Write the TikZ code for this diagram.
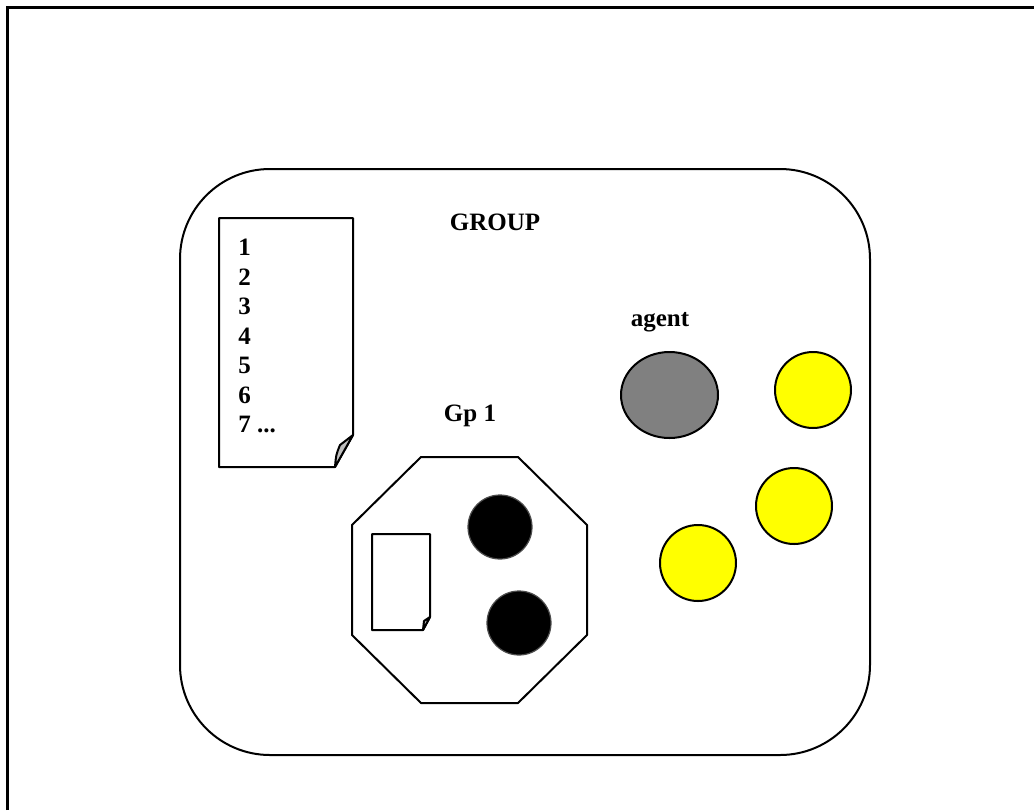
\documentclass[tikz,border=0pt]{standalone}
\usepackage{fontspec}
\setmainfont{Liberation Serif}
\usetikzlibrary{shapes.geometric}
\definecolor{foldgray}{RGB}{192,192,192}
\definecolor{agentgray}{RGB}{128,128,128}
\definecolor{pureyellow}{RGB}{255,255,0}

\begin{document}
\begin{tikzpicture}[x=0.5pt, y=-0.5pt, every node/.style={font=\fontsize{12.5}{14.75}\selectfont\bfseries},
  edge/.style={line width=1pt, line join=round},
  member/.style={circle, draw, line width=1pt, minimum size=38pt, inner sep=0pt, fill=pureyellow},
  blackdot/.style={circle, draw=black!70, line width=0.6pt, minimum size=32pt, inner sep=0pt, fill=black},
  label/.style={inner sep=0pt}]
\useasboundingbox (0,0) rectangle (1034,810);
\draw[line width=1.5pt] (7,810) -- (7,7) -- (1034,7);
% the group
\draw[edge, rounded corners=45pt] (180,169) rectangle (870,755);
\node[label] (group) at (495,222) {GROUP};
% list of the group
\draw[edge] (219,218) -- (353,218) -- (353,435) -- (335,467) -- (219,467) -- cycle;
\draw[edge, fill=foldgray] (353,435) -- (335,467) .. controls (336,455) .. (340,445) -- cycle;
\node[label, anchor=north west, align=left] (list) at (238,239) {1\\2\\3\\4\\5\\6\\7 ...};
% subgroup
\node[label] (gp) at (470,416) {Gp 1};
\draw[edge] (421,457) -- (518,457) -- (587,525) -- (587,635) -- (518,703) -- (421,703) -- (352,635) -- (352,525) -- cycle;
\draw[edge] (372,534) -- (430,534) -- (430,617) -- (423,630) -- (372,630) -- cycle;
\draw[edge, fill=foldgray] (430,617) -- (423,630) -- (424,621) -- cycle;
\node[blackdot] (b1) at (500,527) {};
\node[blackdot] (b2) at (519,623) {};
% agents
\node[label] (agentlbl) at (660,322) {agent};
\node[ellipse, draw, line width=1pt, fill=agentgray, minimum width=48.5pt, minimum height=43pt, inner sep=0pt] (agent) at (669.5,395) {};
\node[member] (y1) at (813,390) {};
\node[member] (y2) at (794,506) {};
\node[member] (y3) at (698,563) {};
\end{tikzpicture}
\end{document}
